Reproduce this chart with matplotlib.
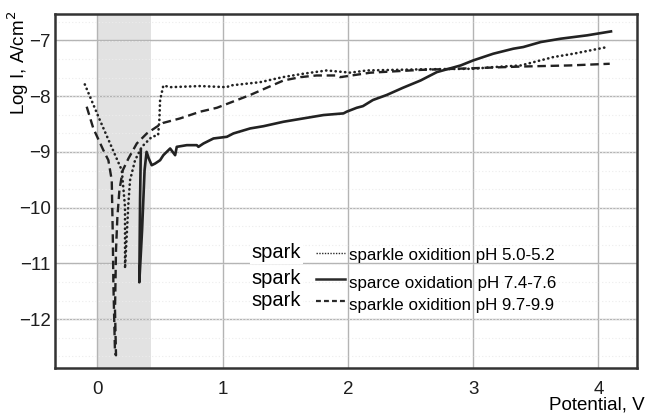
##--------------------------PREAMBLE------------------------##
import numpy as np
import matplotlib
matplotlib.use("Agg")
import matplotlib.pyplot as plt
from matplotlib.lines import Line2D

plt.rcParams['font.family'] = ['Liberation Sans', 'DejaVu Sans']

##--------------------------DATA------------------------------##
# pH 5.0-5.2 (dotted)
pot_ph5 = [-0.10, 0.02, 0.125, 0.195, 0.221, 0.221, 0.248, 0.261, 0.301, 0.355, 0.435,
           0.485, 0.495, 0.501, 0.527, 0.581, 0.82, 1.034, 1.06, 1.30, 1.48, 1.64, 1.83,
           2.02, 2.15, 2.58, 3.00, 3.16, 3.38, 3.64, 3.80, 4.07]
logi_ph5 = [-7.79, -8.43, -8.97, -9.33, -9.99, -11.09, -9.92, -9.51, -9.15, -8.91, -8.73,
            -8.70, -8.43, -8.07, -7.81, -7.84, -7.82, -7.84, -7.81, -7.75, -7.66, -7.60, -7.54,
            -7.58, -7.54, -7.52, -7.51, -7.48, -7.45, -7.30, -7.24, -7.12]

# pH 7.4-7.6 (solid)
pot_ph7 = [0.347, 0.341, 0.335, 0.357, 0.377, 0.393, 0.409, 0.434, 0.461, 0.501, 0.527,
           0.581, 0.621, 0.634, 0.714, 0.794, 0.807, 0.847, 0.927, 1.034, 1.086, 1.22,
           1.326, 1.486, 1.645, 1.805, 1.965, 1.99, 2.07, 2.12, 2.20, 2.31, 2.44, 2.58,
           2.71, 2.90, 3.00, 3.16, 3.32, 3.40, 3.54, 3.70, 3.91, 4.10]
logi_ph7 = [-8.97, -9.87, -11.34, -10.41, -9.33, -9.00, -9.11, -9.24, -9.21, -9.15, -9.06,
            -8.94, -9.06, -8.91, -8.88, -8.88, -8.91, -8.85, -8.76, -8.73, -8.67, -8.58,
            -8.54, -8.46, -8.40, -8.34, -8.31, -8.28, -8.21, -8.18, -8.07, -7.98, -7.85, -7.72,
            -7.57, -7.45, -7.36, -7.24, -7.15, -7.12, -7.03, -6.97, -6.91, -6.84]

# pH 9.7-9.9 (dashed)
pot_ph9 = [-0.085, -0.032, 0.048, 0.088, 0.115, 0.123, 0.128, 0.141, 0.149, 0.141, 0.149,
           0.160, 0.176, 0.203, 0.248, 0.315, 0.395, 0.474, 0.527, 0.661, 0.82, 0.954,
           1.22, 1.486, 1.62, 1.75, 1.91, 1.94, 2.18, 2.58, 3.00, 3.38, 3.77, 4.09]
logi_ph9 = [-8.19, -8.58, -8.97, -9.15, -9.51, -10.46, -11.36, -12.61, -12.65, -11.84, -10.76,
            -10.17, -9.69, -9.33, -9.12, -8.85, -8.67, -8.55, -8.48, -8.40, -8.28, -8.21,
            -7.98, -7.72, -7.66, -7.63, -7.63, -7.66, -7.58, -7.53, -7.50, -7.47, -7.45, -7.42]

spark_zone = [0.0, 0.43]
x_ticks = [0, 1, 2, 3, 4]
y_ticks = [-7, -8, -9, -10, -11, -12]
legend_labels = ['sparkle oxidition pH 5.0-5.2',
                 'sparce oxidation pH 7.4-7.6',
                 'sparkle oxidition pH 9.7-9.9']

##--------------------------FIGURE------------------------------##
fig = plt.figure(figsize=(6.47, 4.16), dpi=100)
ax = fig.add_axes([0.085, 0.115, 0.9, 0.851])

ax.axvspan(spark_zone[0], spark_zone[1], color='#e2e2e2', lw=0, zorder=0)

ax.set_xlim(-0.338, 4.31)
ax.set_ylim(-12.88, -6.53)
ax.set_xticks(x_ticks)
ax.set_yticks(y_ticks)
ax.set_yticks(np.arange(-12.67, -6.5, 1/3), minor=True)
ax.grid(which='major', color='#b4b4b4', lw=1.0, zorder=1)
ax.grid(which='minor', axis='y', color='#ececec', lw=0.8, ls=(0, (1, 2)), zorder=1)
ax.tick_params(which='both', length=0, labelsize=13.5, colors='#1e1e1e')
ax.tick_params(axis='x', pad=9)
ax.tick_params(axis='y', pad=3)
for s in ax.spines.values():
    s.set_color('#333333')
    s.set_linewidth(1.8)

dotted = dict(color='#222222', lw=1.9, ls=(0, (0.1, 1.7)), dash_capstyle='round')
solid = dict(color='#222222', lw=1.9)
dashed = dict(color='#222222', lw=1.7, ls=(0, (3.6, 2.0)))

ax.plot(pot_ph5, logi_ph5, zorder=3, **dotted)
ax.plot(pot_ph9, logi_ph9, zorder=3, **dashed)
ax.plot(pot_ph7, logi_ph7, zorder=4, **solid)

##--------------------------LEGEND------------------------------##
row_y = [0.326, 0.253, 0.192]
lab_y = [0.319, 0.239, 0.178]
leg_styles = [dict(color='#2a2a2a', lw=1.0, ls=(0, (1, 1))),
              dict(color='#2a2a2a', lw=1.8),
              dict(color='#2a2a2a', lw=1.6, ls=(0, (2.2, 1.4)))]
for yy, ly, lab, st in zip(row_y, lab_y, legend_labels, leg_styles):
    ax.text(0.338, yy, 'spark', transform=ax.transAxes, fontsize=14.5, va='center', ha='left',
            bbox=dict(facecolor='white', edgecolor='none', pad=1.5), zorder=5)
    ax.add_line(Line2D([0.448, 0.498], [yy - 0.002, yy - 0.002], transform=ax.transAxes, zorder=5, **st))
    ax.text(0.505, ly, lab, transform=ax.transAxes, fontsize=12.2, va='center', ha='left', zorder=5)

fig.text(0.028, 0.975, 'Log I, A/cm$^2$', rotation=90, ha='center', va='top', fontsize=13.5)
fig.text(0.997, 0.005, 'Potential, V', ha='right', va='bottom', fontsize=13.5)

plt.savefig('out.png', dpi=100)
